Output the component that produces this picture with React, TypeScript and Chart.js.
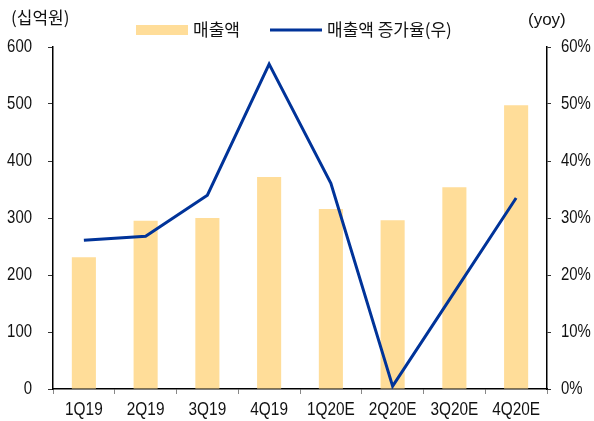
import React, { useEffect, useRef } from 'react';
import { Chart, registerables } from 'chart.js';

Chart.register(...registerables);

const categories = ['1Q19', '2Q19', '3Q19', '4Q19', '1Q20E', '2Q20E', '3Q20E', '4Q20E'];
const salesValues = [231, 295, 300, 372, 316, 296, 354, 498];
const growthValues = [26.1, 26.8, 34.0, 57.0, 36.1, 0.5, 17.0, 33.5];
const salesLabel = '매출액';
const growthLabel = '매출액 증가율(우)';
const leftTitle = '(십억원)';
const rightTitle = '(yoy)';

const NUM_FONT = '"Liberation Sans", Arial, sans-serif';
const KR_FONT = '"Noto Sans CJK KR", "Noto Sans", sans-serif';
const BAR_COLOR = '#FFDD99';
const LINE_COLOR = '#003399';

function narrowText(ctx: any, text: string, x: number, y: number, align: 'left' | 'right' | 'center', squeeze: number) {
  ctx.save();
  ctx.translate(x, y);
  ctx.scale(squeeze, 1);
  ctx.textAlign = align;
  ctx.fillText(text, 0, 0);
  ctx.restore();
}

const overlayPlugin = {
  id: 'overlay',
  afterDraw(chart: any) {
    const ctx = chart.ctx;
    ctx.save();
    ctx.fillStyle = '#111';
    ctx.textBaseline = 'middle';
    // tick labels drawn narrow from the chart's scales
    ctx.font = `19px ${NUM_FONT}`;
    const xs = chart.scales.x;
    xs.ticks.forEach((t: any, i: number) => {
      narrowText(ctx, String(xs.getLabelForValue(t.value)), xs.getPixelForTick(i), 410, 'center', 0.81);
    });
    ctx.font = `18px ${NUM_FONT}`;
    const ys = chart.scales.y;
    ys.ticks.forEach((t: any) => {
      narrowText(ctx, String(t.value), ys.right - 5 - 16, ys.getPixelForValue(t.value), 'right', 0.83);
    });
    const y1 = chart.scales.y1;
    y1.ticks.forEach((t: any) => {
      narrowText(ctx, `${t.value}%`, y1.left + 4 + 10, y1.getPixelForValue(t.value), 'left', 0.83);
    });
    // titles
    ctx.textAlign = 'left';
    ctx.font = `17px ${KR_FONT}`;
    ctx.fillText(leftTitle, 11, 18);
    ctx.font = `17px ${NUM_FONT}`;
    ctx.fillText(rightTitle, 528, 20);
    // legend
    ctx.font = `17px ${KR_FONT}`;
    const ly = 30;
    ctx.fillStyle = BAR_COLOR;
    ctx.fillRect(136, ly - 5, 52, 10);
    ctx.fillStyle = '#111';
    ctx.fillText(chart.data.datasets[1].label, 193, ly);
    ctx.strokeStyle = LINE_COLOR;
    ctx.lineWidth = 3;
    ctx.beginPath();
    ctx.moveTo(270, ly);
    ctx.lineTo(322, ly);
    ctx.stroke();
    ctx.fillText(chart.data.datasets[0].label, 327, ly);
    ctx.restore();
  },
};

export default function App() {
  const ref = useRef<HTMLCanvasElement>(null);
  useEffect(() => {
    document.body.style.margin = '0';
    const chart = new Chart(ref.current!, {
      type: 'bar',
      data: {
        labels: categories,
        datasets: [
          {
            type: 'line',
            label: growthLabel,
            data: growthValues,
            yAxisID: 'y1',
            borderColor: LINE_COLOR,
            borderWidth: 3,
            pointRadius: 0,
            tension: 0,
            order: 0,
          } as any,
          {
            type: 'bar',
            label: salesLabel,
            data: salesValues,
            yAxisID: 'y',
            backgroundColor: BAR_COLOR,
            barPercentage: 0.39,
            categoryPercentage: 1,
            order: 1,
          },
        ],
      },
      options: {
        responsive: false,
        animation: false,
        layout: { padding: { top: 47, left: 0, right: 0, bottom: 0 } },
        plugins: { legend: { display: false }, tooltip: { enabled: false } },
        scales: {
          x: {
            grid: { offset: true, drawOnChartArea: false, tickLength: 5, color: '#888' },
            border: { color: '#000', width: 1.5 },
            ticks: { display: false, maxRotation: 0, autoSkip: false },
            afterFit: (s: any) => { s.height = 32; },
          },
          y: {
            position: 'left',
            min: 0,
            max: 600,
            ticks: { stepSize: 100, display: false },
            grid: { drawOnChartArea: false, tickLength: 5, color: '#333' },
            border: { color: '#000', width: 1.5 },
            afterFit: (s: any) => { s.width = 53; },
          },
          y1: {
            position: 'right',
            min: 0,
            max: 60,
            ticks: { stepSize: 10, display: false },
            grid: { drawOnChartArea: false, tickLength: 4, color: '#333' },
            border: { color: '#000', width: 1.5 },
            afterFit: (s: any) => { s.width = 47; },
          },
        },
      },
      plugins: [overlayPlugin],
    });
    return () => chart.destroy();
  }, []);
  return (
    <div style={{ position: 'absolute', left: 0, top: 0, width: 594, height: 421 }}>
      <canvas ref={ref} width={594} height={421} />
    </div>
  );
}
